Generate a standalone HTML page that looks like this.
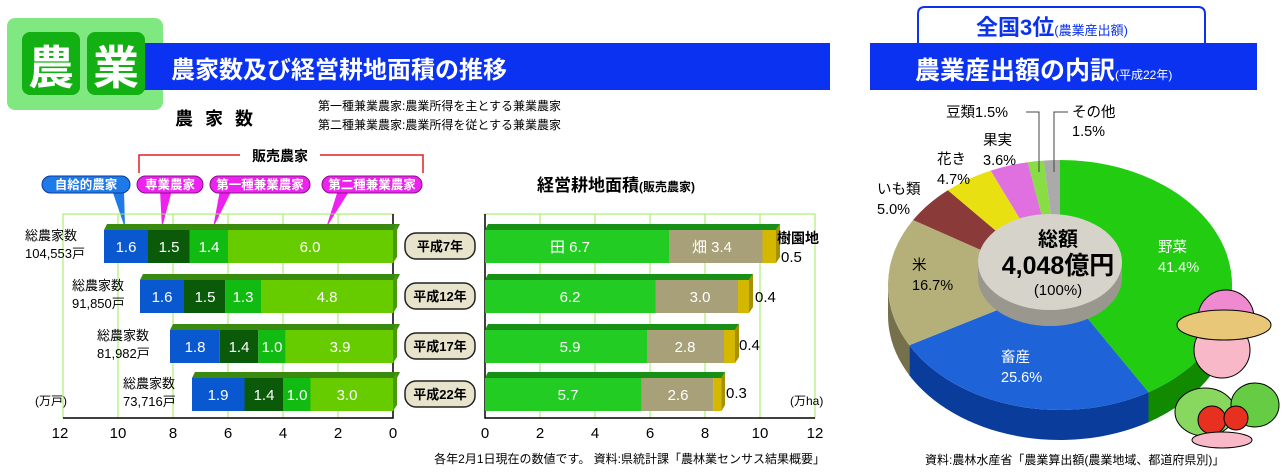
<!DOCTYPE html>
<html><head><meta charset="utf-8">
<style>
html,body{margin:0;padding:0;background:#fff;}
svg{display:block;font-family:"Liberation Sans","Noto Sans CJK JP",sans-serif;}
.b{font-weight:bold;}
</style></head><body>
<svg width="1282" height="476" viewBox="0 0 1282 476" xmlns="http://www.w3.org/2000/svg">
<!-- LEFT HEADER -->
<rect x="7" y="18" width="156" height="92" rx="8" fill="#80e880"/>
<rect x="143" y="43" width="687" height="47" fill="#0a32f0"/>
<rect x="22" y="32" width="58" height="63" rx="8" fill="#12b012"/>
<rect x="87" y="32" width="58" height="63" rx="8" fill="#12b012"/>
<text x="51" y="84" font-size="46" class="b" fill="#fff" text-anchor="middle">農</text>
<text x="116" y="84" font-size="46" class="b" fill="#fff" text-anchor="middle">業</text>
<text x="171" y="78" font-size="24" class="b" fill="#fff">農家数及び経営耕地面積の推移</text>
<text x="175" y="125" font-size="18" class="b" letter-spacing="12">農家数</text>
<text x="318" y="110" font-size="12">第一種兼業農家:農業所得を主とする兼業農家</text>
<text x="318" y="129" font-size="12">第二種兼業農家:農業所得を従とする兼業農家</text>
<!-- bracket -->
<path d="M139 173 V155 H240 M320 155 H423 V173" stroke="#e02020" stroke-width="1.5" fill="none"/>
<text x="280" y="161" font-size="14" class="b" text-anchor="middle">販売農家</text>
<!-- pointers -->
<polygon points="112,190 124,190 125,228" fill="#1e7ae8"/>
<polygon points="160,190 172,190 162,228" fill="#ee22ee"/>
<polygon points="220,190 232,190 213,228" fill="#ee22ee"/>
<polygon points="338,190 350,190 326,228" fill="#ee22ee"/>
<!-- pills -->
<rect x="42" y="176" width="88" height="17" rx="8.5" fill="#1e7ae8" stroke="#0a3a9a"/>
<text x="86" y="189" font-size="12.5" class="b" fill="#fff" text-anchor="middle">自給的農家</text>
<rect x="137" y="176" width="66" height="17" rx="8.5" fill="#ee22ee" stroke="#8a108a"/>
<text x="170" y="189" font-size="12.5" class="b" fill="#fff" text-anchor="middle">専業農家</text>
<rect x="210" y="176" width="100" height="17" rx="8.5" fill="#ee22ee" stroke="#8a108a"/>
<text x="260" y="189" font-size="12.5" class="b" fill="#fff" text-anchor="middle">第一種兼業農家</text>
<rect x="322" y="176" width="100" height="17" rx="8.5" fill="#ee22ee" stroke="#8a108a"/>
<text x="372" y="189" font-size="12.5" class="b" fill="#fff" text-anchor="middle">第二種兼業農家</text>
<text x="537" y="191" font-size="17" class="b">経営耕地面積<tspan font-size="12">(販売農家)</tspan></text>

<!-- LEFT frame/grid -->
<g stroke="#99ee55" stroke-width="1" fill="none">
<rect x="63" y="214" width="330" height="204"/>
<path d="M118 214V418M173 214V418M228 214V418M283 214V418M338 214V418"/>
<rect x="485" y="214" width="330" height="204"/>
<path d="M540 214V418M595 214V418M650 214V418M705 214V418M760 214V418"/>
</g>
<path d="M63 418H393V214" stroke="#000" stroke-width="1.5" fill="none"/>
<path d="M485 214V418H815" stroke="#000" stroke-width="1.5" fill="none"/>
<g font-size="15" text-anchor="middle">
<text x="60" y="438">12</text><text x="118" y="438">10</text><text x="173" y="438">8</text><text x="228" y="438">6</text><text x="283" y="438">4</text><text x="338" y="438">2</text><text x="393" y="438">0</text>
<text x="485" y="438">0</text><text x="540" y="438">2</text><text x="595" y="438">4</text><text x="650" y="438">6</text><text x="705" y="438">8</text><text x="760" y="438">10</text><text x="815" y="438">12</text>
</g>
<text x="35" y="405" font-size="12">(万戸)</text>
<text x="790" y="405" font-size="12">(万ha)</text>

<!-- LEFT bars -->
<g font-size="15" fill="#fff" text-anchor="middle">
<polygon points="104,230 107,224 400,224 397,230" fill="#3a8a10"/>
<polygon points="393,230 397,224 397,257 393,263" fill="#4a9a10"/>
<rect x="104" y="230" width="44" height="33" fill="#0a58d0"/><rect x="148" y="230" width="41.5" height="33" fill="#0a5a0a"/><rect x="189.5" y="230" width="38.5" height="33" fill="#11bb11"/><rect x="228" y="230" width="165" height="33" fill="#66cc00"/>
<text x="126" y="252">1.6</text><text x="169" y="252">1.5</text><text x="209" y="252">1.4</text><text x="310" y="252">6.0</text>
<polygon points="140,280 143,274 400,274 397,280" fill="#3a8a10"/>
<polygon points="393,280 397,274 397,307 393,313" fill="#4a9a10"/>
<rect x="140" y="280" width="44" height="33" fill="#0a58d0"/><rect x="184" y="280" width="41.3" height="33" fill="#0a5a0a"/><rect x="225.3" y="280" width="35.7" height="33" fill="#11bb11"/><rect x="261" y="280" width="132" height="33" fill="#66cc00"/>
<text x="162" y="302">1.6</text><text x="205" y="302">1.5</text><text x="243" y="302">1.3</text><text x="327" y="302">4.8</text>
<polygon points="170,330 173,324 400,324 397,330" fill="#3a8a10"/>
<polygon points="393,330 397,324 397,357 393,363" fill="#4a9a10"/>
<rect x="170" y="330" width="49.8" height="33" fill="#0a58d0"/><rect x="219.8" y="330" width="38.5" height="33" fill="#0a5a0a"/><rect x="258.3" y="330" width="27.5" height="33" fill="#11bb11"/><rect x="285.8" y="330" width="107.2" height="33" fill="#66cc00"/>
<text x="195" y="352">1.8</text><text x="239" y="352">1.4</text><text x="272" y="352">1.0</text><text x="340" y="352">3.9</text>
<polygon points="192,378 195,372 400,372 397,378" fill="#3a8a10"/>
<polygon points="393,378 397,372 397,405 393,411" fill="#4a9a10"/>
<rect x="192" y="378" width="52.5" height="33" fill="#0a58d0"/><rect x="244.5" y="378" width="38.5" height="33" fill="#0a5a0a"/><rect x="283" y="378" width="27.5" height="33" fill="#11bb11"/><rect x="310.5" y="378" width="82.5" height="33" fill="#66cc00"/>
<text x="218" y="400">1.9</text><text x="264" y="400">1.4</text><text x="297" y="400">1.0</text><text x="347" y="400">3.0</text>
</g>
<g font-size="13">
<text x="25" y="240">総農家数</text><text x="25" y="258">104,553戸</text>
<text x="72" y="290">総農家数</text><text x="72" y="308">91,850戸</text>
<text x="97" y="340">総農家数</text><text x="97" y="358">81,982戸</text>
<text x="123" y="388">総農家数</text><text x="123" y="406">73,716戸</text>
</g>
<g font-size="13" class="b" text-anchor="middle">
<rect x="405" y="233" width="70" height="26" rx="11" fill="#e8e4cc" stroke="#222" stroke-width="1.5"/><text x="440" y="251">平成7年</text>
<rect x="405" y="283" width="70" height="26" rx="11" fill="#e8e4cc" stroke="#222" stroke-width="1.5"/><text x="440" y="301">平成12年</text>
<rect x="405" y="333" width="70" height="26" rx="11" fill="#e8e4cc" stroke="#222" stroke-width="1.5"/><text x="440" y="351">平成17年</text>
<rect x="405" y="381" width="70" height="26" rx="11" fill="#e8e4cc" stroke="#222" stroke-width="1.5"/><text x="440" y="399">平成22年</text>
</g>
<!-- RIGHT bars -->
<g font-size="15" fill="#fff" text-anchor="middle">
<polygon points="485,230 488,224 780,224 776,230" fill="#189018"/>
<polygon points="776,230 780,224 780,257 776,263" fill="#a89000"/>
<rect x="485" y="230" width="184" height="33" fill="#22cc22"/><rect x="669" y="230" width="93.5" height="33" fill="#a8a078"/><rect x="762.5" y="230" width="13.5" height="33" fill="#d4b800"/>
<text x="570" y="252">田 6.7</text><text x="712" y="252">畑 3.4</text>
<polygon points="485,280 488,274 753,274 749,280" fill="#189018"/>
<polygon points="749,280 753,274 753,307 749,313" fill="#a89000"/>
<rect x="485" y="280" width="170.5" height="33" fill="#22cc22"/><rect x="655.5" y="280" width="82.5" height="33" fill="#a8a078"/><rect x="738" y="280" width="11" height="33" fill="#d4b800"/>
<text x="570" y="302">6.2</text><text x="700" y="302">3.0</text>
<polygon points="485,330 488,324 739,324 735,330" fill="#189018"/>
<polygon points="735,330 739,324 739,357 735,363" fill="#a89000"/>
<rect x="485" y="330" width="162" height="33" fill="#22cc22"/><rect x="647" y="330" width="77" height="33" fill="#a8a078"/><rect x="724" y="330" width="11" height="33" fill="#d4b800"/>
<text x="570" y="352">5.9</text><text x="685" y="352">2.8</text>
<polygon points="485,378 488,372 725,372 721.5,378" fill="#189018"/>
<polygon points="721.5,378 725,372 725,405 721.5,411" fill="#a89000"/>
<rect x="485" y="378" width="156.8" height="33" fill="#22cc22"/><rect x="641.8" y="378" width="71.5" height="33" fill="#a8a078"/><rect x="713.3" y="378" width="8.2" height="33" fill="#d4b800"/>
<text x="568" y="400">5.7</text><text x="678" y="400">2.6</text>
</g>
<g font-size="15">
<text x="777" y="243" font-size="14" class="b">樹園地</text>
<text x="781" y="262">0.5</text>
<text x="755" y="302">0.4</text>
<text x="739" y="350">0.4</text>
<text x="726" y="398">0.3</text>
</g>
<text x="825" y="463" font-size="12" text-anchor="end">各年2月1日現在の数値です。 資料:県統計課「農林業センサス結果概要」</text>

<!-- RIGHT HEADER -->
<path d="M918 43 V14 Q918 7 925 7 H1198 Q1205 7 1205 14 V43" fill="#fff" stroke="#0a32f0" stroke-width="2"/>
<text x="976" y="35" font-size="22" class="b" fill="#0a32f0">全国3位<tspan font-size="13" font-weight="normal">(農業産出額)</tspan></text>
<rect x="870" y="43" width="387" height="47" fill="#0a32f0"/>
<text x="915" y="79" font-size="25" class="b" fill="#fff">農業産出額の内訳<tspan font-size="12" font-weight="normal">(平成22年)</tspan></text>

<!-- PIE sides -->
<path d="M1232 285 A172 125 0 0 1 1148.5 392.2 L1148.5 422.2 A172 125 0 0 0 1232 315 Z" fill="#118a00"/>
<path d="M1148.5 392.2 A172 125 0 0 1 909.3 345.2 L909.3 375.2 A172 125 0 0 0 1148.5 422.2 Z" fill="#0a3c9c"/>
<path d="M909.3 345.2 A172 125 0 0 1 888 285 L888 315 A172 125 0 0 0 909.3 375.2 Z" fill="#75714c"/>
<path d="M1060 285 L1060 160 A172 125 0 0 1 1148.5 392.2 Z" fill="#22cc11"/>
<path d="M1060 285 L1148.5 392.2 A172 125 0 0 1 909.3 345.2 Z" fill="#1e64d8"/>
<path d="M1060 285 L909.3 345.2 A172 125 0 0 1 913.1 220 Z" fill="#b5b07a"/>
<path d="M1060 285 L913.1 220 A172 125 0 0 1 947.9 190.2 Z" fill="#8b3a3a"/>
<path d="M1060 285 L947.9 190.2 A172 125 0 0 1 990.7 170.6 Z" fill="#e8e010"/>
<path d="M1060 285 L990.7 170.6 A172 125 0 0 1 1027.8 162.2 Z" fill="#e070e0"/>
<path d="M1060 285 L1027.8 162.2 A172 125 0 0 1 1043.8 160.6 Z" fill="#88dd44"/>
<path d="M1060 285 L1043.8 160.6 A172 125 0 0 1 1060 160 Z" fill="#aaaaaa"/>
<ellipse cx="1050" cy="278" rx="72" ry="48" fill="#9a988e"/>
<rect x="978" y="262" width="144" height="16" fill="#9a988e"/>
<ellipse cx="1050" cy="262" rx="72" ry="48" fill="#d6d4ca"/>
<text x="1058" y="246" font-size="20" class="b" text-anchor="middle">総額</text>
<text x="1058" y="274" font-size="25" class="b" text-anchor="middle">4,048億円</text>
<text x="1058" y="295" font-size="15" text-anchor="middle">(100%)</text>
<g font-size="14.5">
<text x="1158" y="252" fill="#fff">野菜</text><text x="1158" y="272" fill="#fff">41.4%</text>
<text x="1001" y="362" fill="#fff">畜産</text><text x="1001" y="382" fill="#fff">25.6%</text>
<text x="912" y="270">米</text><text x="912" y="290">16.7%</text>
<text x="877" y="194">いも類</text><text x="877" y="214">5.0%</text>
<text x="937" y="164">花き</text><text x="937" y="184">4.7%</text>
<text x="983" y="145">果実</text><text x="983" y="165">3.6%</text>
<text x="946" y="117">豆類1.5%</text>
<text x="1072" y="117">その他</text><text x="1072" y="136">1.5%</text>
</g>
<path d="M1026 112 H1039 V172 M1068 112 H1054 V172" stroke="#444" stroke-width="1" fill="none"/>
<!-- farmer -->
<circle cx="1226" cy="318" r="28" fill="#f08ad0" stroke="#000"/>
<circle cx="1222" cy="350" r="28" fill="#f8b8c8" stroke="#000"/>
<ellipse cx="1224" cy="325" rx="47" ry="15" fill="#e8c878" stroke="#000"/>
<ellipse cx="1205" cy="412" rx="30" ry="24" fill="#88d860" stroke="#000"/>
<ellipse cx="1255" cy="405" rx="24" ry="22" fill="#66cc44" stroke="#000"/>
<circle cx="1212" cy="420" r="14" fill="#e83020" stroke="#000"/>
<circle cx="1236" cy="418" r="12" fill="#e83020" stroke="#000"/>
<ellipse cx="1222" cy="440" rx="30" ry="8" fill="#f8b8c8" stroke="#000"/>
<text x="925" y="464" font-size="12">資料:農林水産省「農業算出額(農業地域、都道府県別)」</text>
</svg>
</body></html>
